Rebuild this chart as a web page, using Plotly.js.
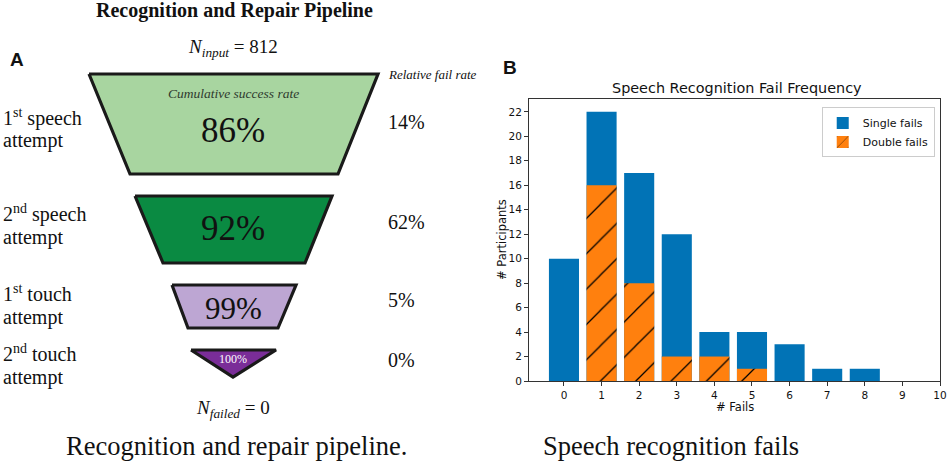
<!DOCTYPE html>
<html>
<head>
<meta charset="utf-8">
<script src="https://cdn.plot.ly/plotly-3.0.1.min.js"></script>
<style>html,body{margin:0;padding:0;background:#fff;}#chart{width:948px;height:463px;}</style>
</head>
<body>
<div id="chart"></div>
<script>
// ---- data ----
const failCounts = [0, 1, 2, 3, 4, 5, 6, 7, 8, 9];
const singleFails = [10, 22, 17, 12, 4, 4, 3, 1, 1, 0];
const doubleFails = [0, 16, 8, 2, 2, 1, 0, 0, 0, 0];
const xTickVals = [0, 1, 2, 3, 4, 5, 6, 7, 8, 9, 10];

const stageLabels = ["1<sup>st</sup> speech", "2<sup>nd</sup> speech", "1<sup>st</sup> touch", "2<sup>nd</sup> touch"];
const cumulativeSuccess = ["86%", "92%", "99%", "100%"];
const relativeFail = ["14%", "62%", "5%", "0%"];
const nInput = 812;
const nFailed = 0;

// ---- geometry (pixel space of the hidden overlay axes) ----
const stageShapes = [
  {xs: [89, 378, 338, 130, 89], ys: [74, 74, 174, 174, 74], fill: "#a8d5a0"},
  {xs: [135, 332, 305, 163, 135], ys: [196, 196, 263, 263, 196], fill: "#0a8a42"},
  {xs: [172, 296, 278, 188, 172], ys: [285, 285, 328, 328, 285], fill: "#bda6d3"},
  {xs: [191, 276, 233, 191], ys: [350, 350, 377, 350], fill: "#7a2d98"}
];
const labelY = [[117, 140], [213, 237], [293, 317], [353, 377]];
const pctY = [130, 228, 308, 359];
const pctSize = [35, 35, 31, 12];
const pctColor = ["#111", "#111", "#111", "#fff"];
const failY = [122, 222, 300, 360];

const serif = "Liberation Serif";
const sans = "DejaVu Sans";

const traces = [];
stageShapes.forEach(s => {
  traces.push({
    type: "scatter", mode: "lines", x: s.xs, y: s.ys, xaxis: "x2", yaxis: "y2",
    fill: "toself", fillcolor: s.fill, line: {color: "#1a1a1a", width: 3.2},
    hoverinfo: "skip", showlegend: false
  });
});

traces.push({
  type: "bar", name: "Single fails", x: failCounts, y: singleFails, width: 0.8,
  marker: {color: "#0173b6", line: {width: 0}}
});
traces.push({
  type: "bar", name: "Double fails", x: failCounts, y: doubleFails, width: 0.8,
  marker: {color: "#ff800e", line: {color: "#ff800e", width: 0},
    pattern: {shape: "/", fgcolor: "#000", bgcolor: "#ff800e", size: 25, solidity: 0.05, fillmode: "replace"}}
});

const ann = [];
function A(x, y, text, size, opts) {
  ann.push(Object.assign({xref: "x2", yref: "y2", x: x, y: y, text: text, showarrow: false,
    xanchor: "center", yanchor: "middle", font: {family: serif, size: size, color: "#111"}}, opts || {}));
}
A(234, 10, "<b>Recognition and Repair Pipeline</b>", 20);
A(8, 59, "<b>A</b>", 19, {xanchor: "left", font: {family: "Liberation Sans", size: 19, color: "#111"}});
A(233, 48, "<i>N</i><sub><i>input</i></sub> = " + nInput, 19);
A(386, 74, "<i>Relative fail rate</i>", 13, {xanchor: "left"});
A(233, 93, "<i>Cumulative success rate</i>", 13.5, {font: {family: serif, size: 13.5, color: "#2e3a2e"}});
stageLabels.forEach((t, i) => {
  A(1, labelY[i][0], t, 20, {xanchor: "left"});
  A(1, labelY[i][1], "attempt", 20, {xanchor: "left"});
  A(233, pctY[i], cumulativeSuccess[i], pctSize[i], {font: {family: serif, size: pctSize[i], color: pctColor[i]}});
  A(386, failY[i], relativeFail[i], 20, {xanchor: "left"});
});
A(233, 409, "<i>N</i><sub><i>failed</i></sub> = " + nFailed, 19);
A(236, 446, "Recognition and repair pipeline.", 26.5);

A(501, 67, "<b>B</b>", 19, {xanchor: "left", font: {family: "Liberation Sans", size: 19, color: "#111"}});
A(737, 88, "Speech Recognition Fail Frequency", 14.4, {font: {family: sans, size: 14.4, color: "#111"}});
A(735, 407, "# Fails", 11.5, {font: {family: sans, size: 11.5, color: "#111"}});
A(502, 240, "# Participants", 11.5, {textangle: -90, font: {family: sans, size: 11.5, color: "#111"}});
A(671, 446, "Speech recognition fails", 26.5);

const layout = {
  width: 948, height: 463,
  margin: {l: 0, r: 0, t: 0, b: 0},
  paper_bgcolor: "#fff", plot_bgcolor: "rgba(0,0,0,0)",
  barmode: "overlay",
  showlegend: true,
  legend: {x: 0.986, y: 0.768, xanchor: "right", yanchor: "top", bgcolor: "#fff",
    bordercolor: "#cccccc", borderwidth: 1, font: {family: sans, size: 11, color: "#111"},
    tracegroupgap: 0, itemwidth: 30},
  xaxis: {domain: [529 / 948, 940 / 948], range: [-0.93, 10], tickvals: xTickVals,
    showgrid: false, zeroline: false, showline: true, mirror: true, linecolor: "#333", linewidth: 1,
    ticks: "outside", ticklen: 4, tickcolor: "#333", tickfont: {family: sans, size: 10.5, color: "#111"}},
  yaxis: {domain: [1 - 381 / 463, 1 - 99 / 463], range: [0, 23.05], dtick: 2,
    showgrid: false, zeroline: false, showline: true, mirror: true, linecolor: "#333", linewidth: 1,
    ticks: "outside", ticklen: 4, tickcolor: "#333", tickfont: {family: sans, size: 10.5, color: "#111"}},
  xaxis2: {domain: [0, 1], range: [0, 948], visible: false, fixedrange: true},
  yaxis2: {domain: [0, 1], range: [463, 0], visible: false, fixedrange: true},
  annotations: ann
};

Plotly.newPlot("chart", traces, layout, {displayModeBar: false, staticPlot: true});
</script>
</body>
</html>
